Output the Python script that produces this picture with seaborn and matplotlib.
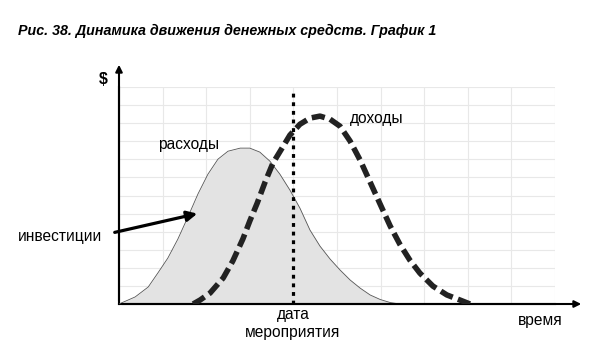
import matplotlib
matplotlib.use("Agg")
import matplotlib.pyplot as plt
import seaborn as sns
import pandas as pd

# ---- data (grid units: x 0..10, y 0..12) ----
exp_x = [0.00, 0.37, 0.67, 0.89, 1.12, 1.35, 1.58, 1.81, 2.04, 2.27, 2.50, 2.78, 3.00, 3.23, 3.46, 3.69,
         3.92, 4.15, 4.38, 4.61, 4.84, 5.07, 5.30, 5.53, 5.76, 5.99, 6.22, 6.44]
exp_y = [0.00, 0.39, 0.94, 1.71, 2.54, 3.59, 4.81, 6.08, 7.18, 8.01, 8.45, 8.62, 8.62, 8.40, 7.90, 7.18,
         6.30, 5.30, 4.09, 3.20, 2.49, 1.88, 1.33, 0.88, 0.50, 0.25, 0.08, 0.00]

inc_x = [1.70, 1.86, 2.09, 2.39, 2.61, 2.84, 3.00, 3.17, 3.35, 3.53, 3.74, 3.92, 4.15, 4.38, 4.61, 4.84,
         5.07, 5.30, 5.53, 5.76, 5.99, 6.22, 6.44, 6.67, 6.90, 7.20, 7.52, 7.82, 8.05]
inc_y = [0.00, 0.22, 0.61, 1.44, 2.38, 3.59, 4.59, 5.58, 6.74, 7.79, 8.62, 9.34, 9.94, 10.28, 10.39, 10.22,
         9.83, 9.01, 7.96, 6.74, 5.52, 4.31, 3.31, 2.43, 1.71, 0.99, 0.50, 0.22, 0.00]

event_x = 4.0
event_top = 11.9

title = "Рис. 38. Динамика движения денежных средств. График 1"
lbl_y = "$"
lbl_x = "время"
lbl_exp = "расходы"
lbl_inc = "доходы"
lbl_inv = "инвестиции"
lbl_event = "дата\nмероприятия"

sns.set_style("white")
plt.rcParams["font.family"] = ["Liberation Sans", "DejaVu Sans"]
plt.rcParams["text.color"] = "black"

fig = plt.figure(figsize=(5.96, 3.56), dpi=100)
W, H = 596, 356
ax = fig.add_axes([119 / W, 52 / H, 436 / W, 217 / H])
ax.set_xlim(0, 10)
ax.set_ylim(0, 12)
ax.set_xticks(range(0, 11))
ax.set_yticks(range(0, 13))
ax.grid(True, color="#e8e8e8", linewidth=0.8)
ax.tick_params(length=0, labelbottom=False, labelleft=False)
for s in ["top", "right"]:
    ax.spines[s].set_visible(False)
for s in ["left", "bottom"]:
    ax.spines[s].set_linewidth(1.5)
    ax.spines[s].set_color("black")

df_exp = pd.DataFrame({"x": exp_x, "y": exp_y})
df_inc = pd.DataFrame({"x": inc_x, "y": inc_y})

ax.fill_between(df_exp["x"], df_exp["y"], 0, color="#e3e3e3", zorder=2, linewidth=0)
sns.lineplot(data=df_exp, x="x", y="y", ax=ax, color="#555555", linewidth=0.6, sort=False, zorder=3)
sns.lineplot(data=df_inc, x="x", y="y", ax=ax, color="#222222", linewidth=4.0, sort=False, zorder=4)
ln = ax.lines[-1]
ln.set_dashes([2.4, 1.0])
ln.set_dash_capstyle("butt")
ln.set_solid_joinstyle("round")
ax.plot([event_x, event_x], [0, event_top], color="black", linewidth=2.3,
        linestyle=(0, (1.2, 1.5)), zorder=5)
ax.set_xlabel("")
ax.set_ylabel("")

# axis arrows
ax.annotate("", xy=(119 / W, 1 - 62 / H), xytext=(119 / W, 1 - 304 / H), xycoords="figure fraction",
            arrowprops=dict(arrowstyle="-|>", color="black", lw=1.5, mutation_scale=10))
ax.annotate("", xy=(584 / W, 1 - 304 / H), xytext=(119 / W, 1 - 304 / H), xycoords="figure fraction",
            arrowprops=dict(arrowstyle="-|>", color="black", lw=1.5, mutation_scale=10))

# title
fig.text(18 / W, 1 - 31 / H, title, fontsize=10.3, fontweight="bold", fontstyle="italic",
         ha="left", va="center", color="black")

fs = 11.2
fig.text(103 / W, 1 - 79 / H, lbl_y, fontsize=11.5, fontweight="bold", ha="center", va="center")
fig.text(189 / W, 1 - 144 / H, lbl_exp, fontsize=fs, ha="center", va="center")
fig.text(377 / W, 1 - 118 / H, lbl_inc, fontsize=fs, ha="center", va="center")
fig.text(60 / W, 1 - 236 / H, lbl_inv, fontsize=fs, ha="center", va="center")
fig.text(293 / W, 1 - 323 / H, lbl_event, fontsize=fs, ha="center", va="center", linespacing=1.25)
fig.text(540 / W, 1 - 321 / H, lbl_x, fontsize=fs, ha="center", va="center")

ax.annotate("", xy=(200 / W, 1 - 213 / H), xytext=(112 / W, 1 - 233 / H), xycoords="figure fraction",
            arrowprops=dict(arrowstyle="-|>", color="black", lw=2.3, mutation_scale=15))

fig.savefig("out.png", dpi=100, facecolor="white")
